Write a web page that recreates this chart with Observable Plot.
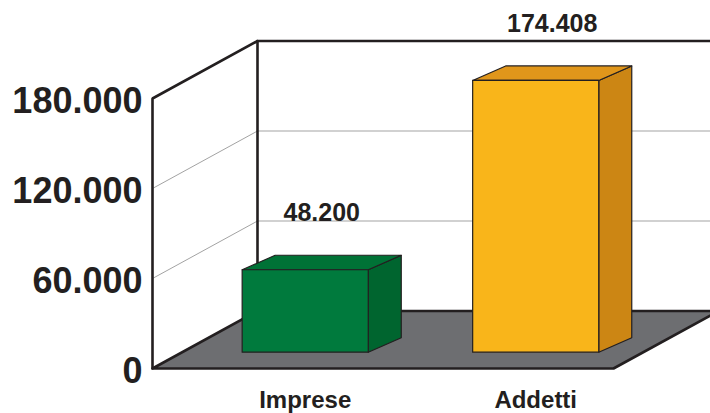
<!DOCTYPE html>
<html>
<head>
<meta charset="utf-8">
<script src="https://cdn.jsdelivr.net/npm/d3@7"></script>
<script src="https://cdn.jsdelivr.net/npm/@observablehq/plot@0.6"></script>
<style>
  body { margin: 0; background: #fff; }
</style>
</head>
<body>
<div id="chart"></div>
<script>
// Data
const categories = ["Imprese", "Addetti"];
const values = [48200, 174408];
const frontColors = ["#007a3d", "#f9b51a"];
const topColors = ["#007236", "#e0961b"];
const sideColors = ["#00652f", "#cc8614"];
const tickValues = [0, 60000, 120000, 180000];
const gridValues = [60000, 120000];
const yMax = 180000;

const ink = "#231f20";
const font = "Liberation Sans, Arial, Helvetica, sans-serif";
const itFormat = d3.formatLocale({decimal: ",", thousands: ".", grouping: [3], currency: ["€", ""]}).format(",d");

// Oblique 3-D box geometry, expressed in scale units
// (x: one unit per category slot, y: value units)
const X_END = 558 / 230.5;              // right edge of the plotting area
const WALL_DX = 0.4555, WALL_DY = 38333; // depth of floor / side wall
const BAR_LEFT = 0.389, BAR_W = 0.547;   // front face inside its slot
const BAR_Z = 17633;                     // vertical shift of the bar's front plane
const BAR_FOOT = -6767;                  // bars rest on the slab below the zero plane
const BAR_DX = 0.1432, BAR_DY = 9667;    // bar thickness

const pts = (arr) => arr.map(([x, y]) => ({x, y}));
const closed = (arr) => pts([...arr, arr[0]]);

// floor slab
const floor = closed([[0, 0], [2, 0], [2 + WALL_DX, WALL_DY], [WALL_DX, WALL_DY]]);

// gridlines running up the side wall and across the back wall
const grid = gridValues.flatMap(v => [
  {v, x: 0, y: v},
  {v, x: WALL_DX, y: v + WALL_DY},
  {v, x: X_END, y: v + WALL_DY}
]);

// heavy frame: value axis, top edge of walls, back corner
const frame = [
  ...pts([[0, 0], [0, yMax], [WALL_DX, yMax + WALL_DY], [X_END, yMax + WALL_DY]]).map(d => ({...d, id: "outer"})),
  ...pts([[WALL_DX, WALL_DY], [WALL_DX, yMax + WALL_DY]]).map(d => ({...d, id: "corner"}))
];

// faces of each bar
const barMarks = values.flatMap((v, i) => {
  const x0 = i + BAR_LEFT, x1 = x0 + BAR_W;
  const b = BAR_FOOT + BAR_Z, t = v + BAR_Z;
  const front = closed([[x0, b], [x1, b], [x1, t], [x0, t]]);
  const top = closed([[x0, t], [x1, t], [x1 + BAR_DX, t + BAR_DY], [x0 + BAR_DX, t + BAR_DY]]);
  const side = closed([[x1, b], [x1 + BAR_DX, b + BAR_DY], [x1 + BAR_DX, t + BAR_DY], [x1, t]]);
  const style = {x: "x", y: "y", stroke: ink, strokeWidth: 1.2, strokeLinejoin: "round"};
  return [
    Plot.line(side, {...style, fill: sideColors[i]}),
    Plot.line(top, {...style, fill: topColors[i]}),
    Plot.line(front, {...style, fill: frontColors[i]})
  ];
});

const bars = values.map((v, i) => ({
  category: categories[i],
  value: v,
  xc: i + BAR_LEFT + BAR_W / 2,
  top: v + BAR_Z + BAR_DY
}));

// value axis labels
const hasAxisMark = typeof Plot.axisY === "function";
const axisOptions = {ticks: tickValues, tickFormat: itFormat, tickSize: 0, tickPadding: 10, label: null};
const axisMarks = hasAxisMark
  ? [Plot.axisY({...axisOptions, fontSize: 36, fontWeight: "bold", fontFamily: font, fill: ink, dy: 3})]
  : [];

const chart = Plot.plot({
  width: 710,
  height: 413,
  marginLeft: 152,
  marginRight: 0,
  marginTop: 98,
  marginBottom: 45,
  style: {fontFamily: font, fontSize: "36px", fontWeight: "bold", color: ink, background: "#fff"},
  x: {domain: [0, X_END], axis: null},
  y: hasAxisMark ? {domain: [0, yMax]} : {domain: [0, yMax], ...axisOptions},
  marks: [
    ...axisMarks,
    Plot.line(floor, {x: "x", y: "y", fill: "#6d6e71", stroke: ink, strokeWidth: 2.6, strokeLinejoin: "miter"}),
    Plot.line(grid, {x: "x", y: "y", z: "v", stroke: "#a3a3a3", strokeWidth: 1}),
    Plot.line(frame, {x: "x", y: "y", z: "id", stroke: ink, strokeWidth: 2.6, strokeLinejoin: "miter"}),
    ...barMarks,
    Plot.text(bars, {
      x: d => d.xc + BAR_DX / 2, y: "top", text: d => itFormat(d.value),
      dy: -34, lineAnchor: "bottom", fontSize: 25, fontWeight: "bold", fontFamily: font, fill: ink
    }),
    Plot.text(bars, {
      x: "xc", y: () => 0, text: "category",
      dy: 32, lineAnchor: "middle", fontSize: 24, fontWeight: "bold", fontFamily: font, fill: ink
    })
  ]
});

document.getElementById("chart").append(chart);
</script>
</body>
</html>
